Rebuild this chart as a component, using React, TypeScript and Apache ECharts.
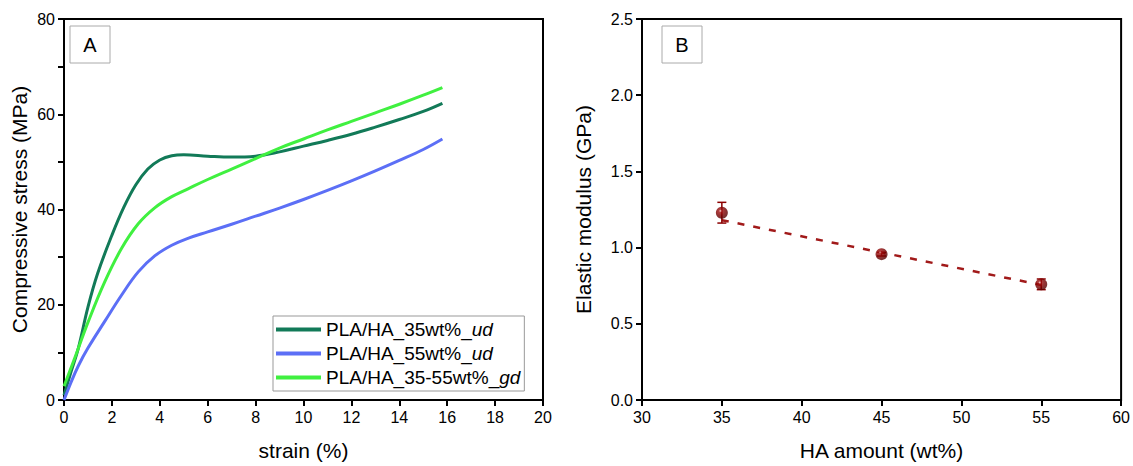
import React, { useEffect, useRef } from "react";
import * as echarts from "echarts";

const FONT = "'Liberation Sans', Arial, Helvetica, sans-serif";

// Panel A: strain (%) vs compressive stress (MPa)
const ud35: [number, number][] = [
  [0, 1.0], [0.3, 6.0], [0.6, 10.9], [1.0, 19.5], [1.4, 26.5], [2.0, 34.6], [2.5, 40.5],
  [3.0, 45.2], [3.5, 48.5], [4.0, 50.4], [4.5, 51.3], [5.0, 51.5], [6.0, 51.2], [7.0, 51.0],
  [8.0, 51.2], [9.0, 52.1], [10.0, 53.3], [11.0, 54.5], [12.0, 55.8], [13.0, 57.3],
  [14.0, 58.9], [15.0, 60.6], [15.8, 62.3],
];
const ud55: [number, number][] = [
  [0, 0], [0.3, 3.8], [0.6, 7.2], [1.0, 10.9], [1.7, 16.5], [2.4, 22.0], [3.1, 26.9],
  [3.8, 30.3], [4.5, 32.5], [5.2, 34.0], [6.0, 35.3], [7.0, 36.9], [8.0, 38.6], [9.0, 40.3],
  [10.0, 42.1], [11.0, 44.0], [12.0, 46.0], [13.0, 48.1], [14.0, 50.3], [15.0, 52.6], [15.8, 54.8],
];
const gd3555: [number, number][] = [
  [0, 2.9], [0.5, 9.5], [1.0, 16.3], [1.7, 24.8], [2.4, 31.8], [3.1, 37.0], [3.8, 40.4],
  [4.5, 42.7], [5.2, 44.4], [6.0, 46.3], [7.0, 48.5], [8.0, 50.7], [9.0, 52.9], [10.0, 54.8],
  [11.0, 56.7], [12.0, 58.5], [13.0, 60.3], [14.0, 62.1], [15.0, 64.0], [15.8, 65.6],
];
const seriesNames = ["PLA/HA_35wt%_ud", "PLA/HA_55wt%_ud", "PLA/HA_35-55wt%_gd"];
const seriesColors = ["#127a58", "#5c6ff6", "#40f040"];

// Panel B: HA amount (wt%) vs elastic modulus (GPa)
const haAmount = [35, 45, 55];
const modulus = [1.229, 0.957, 0.759];
const modulusErr = [0.068, 0.012, 0.035];
const fitLine: [number, number][] = [[35, 1.18], [55, 0.755]];

const legendRich: Record<string, [string, string]> = {
  "PLA/HA_35wt%_ud": ["PLA/HA_35wt%_", "ud"],
  "PLA/HA_55wt%_ud": ["PLA/HA_55wt%_", "ud"],
  "PLA/HA_35-55wt%_gd": ["PLA/HA_35-55wt%_", "gd"],
};

export default function App() {
  const ref = useRef<HTMLDivElement>(null);
  useEffect(() => {
    if (!ref.current) return;
    const chart = echarts.init(ref.current, undefined, { renderer: "svg" });
    const axisLine = { show: true, onZero: false, lineStyle: { color: "#000", width: 2 } };
    const axisTick = { show: true, inside: false, length: 6, lineStyle: { color: "#000", width: 2 } };
    const axisLabel = { color: "#000", fontSize: 16, fontFamily: FONT, margin: 9 };
    const nameStyle = { color: "#000", fontSize: 21, fontFamily: FONT };
    const curves = [ud35, ud55, gd3555];

    const option: any = {
      animation: false,
      backgroundColor: "#fff",
      grid: [
        { left: 64, top: 19, width: 479, height: 383, show: true, borderColor: "#000", borderWidth: 2, backgroundColor: "transparent" },
        { left: 642, top: 19, width: 481, height: 383, show: true, borderColor: "#000", borderWidth: 2, backgroundColor: "transparent" },
      ],
      xAxis: [
        {
          gridIndex: 0, type: "value", min: 0, max: 20, interval: 2,
          name: "strain (%)", nameLocation: "middle", nameGap: 40, nameTextStyle: nameStyle,
          axisLine, axisTick, axisLabel, splitLine: { show: false },
        },
        {
          gridIndex: 1, type: "value", min: 30, max: 60, interval: 5,
          name: "HA amount (wt%)", nameLocation: "middle", nameGap: 40, nameTextStyle: nameStyle,
          axisLine, axisTick, axisLabel, splitLine: { show: false },
        },
      ],
      yAxis: [
        {
          gridIndex: 0, type: "value", min: 0, max: 80, interval: 20,
          name: "Compressive stress (MPa)", nameLocation: "middle", nameGap: 34, nameTextStyle: nameStyle,
          axisLine, axisTick, axisLabel,
          minorTick: { show: true, splitNumber: 2, length: 6, lineStyle: { color: "#000", width: 2 } },
          splitLine: { show: false },
        },
        {
          gridIndex: 1, type: "value", min: 0, max: 2.5, interval: 0.5,
          name: "Elastic modulus (GPa)", nameLocation: "middle", nameGap: 48, nameTextStyle: nameStyle,
          axisLine, axisTick,
          axisLabel: { ...axisLabel, formatter: (v: number) => v.toFixed(1) },
          splitLine: { show: false },
        },
      ],
      legend: {
        data: seriesNames,
        orient: "vertical",
        left: 273,
        top: 316,
        padding: [4, 4, 4, 3],
        itemGap: 5,
        itemWidth: 45,
        itemHeight: 4,
        icon: "rect",
        borderColor: "#999",
        borderWidth: 1,
        backgroundColor: "#fff",
        selectedMode: false,
        formatter: (name: string) => {
          const p = legendRich[name];
          return `{n|${p[0]}}{i|${p[1]}}`;
        },
        textStyle: {
          color: "#000",
          fontSize: 19,
          fontFamily: FONT,
          rich: {
            n: { fontSize: 19, fontFamily: FONT, color: "#000", lineHeight: 20 },
            i: { fontSize: 19, fontFamily: FONT, color: "#000", fontStyle: "italic", lineHeight: 20 },
          },
        },
      },
      graphic: [
        { type: "rect", shape: { x: 70, y: 26, width: 40, height: 37 }, style: { fill: "#fff", stroke: "#aaa", lineWidth: 1 }, z: 10 },
        { type: "text", x: 90, y: 45, style: { text: "A", fontSize: 20, fontFamily: FONT, fill: "#000", textAlign: "center", textVerticalAlign: "middle" }, z: 11 },
        { type: "rect", shape: { x: 662, y: 26, width: 40, height: 37 }, style: { fill: "#fff", stroke: "#aaa", lineWidth: 1 }, z: 10 },
        { type: "text", x: 682, y: 45, style: { text: "B", fontSize: 20, fontFamily: FONT, fill: "#000", textAlign: "center", textVerticalAlign: "middle" }, z: 11 },
      ],
      series: [
        ...curves.map((d, i) => ({
          name: seriesNames[i],
          type: "line",
          xAxisIndex: 0,
          yAxisIndex: 0,
          data: d,
          smooth: 0.4,
          symbol: "none",
          color: seriesColors[i],
          lineStyle: { color: seriesColors[i], width: 3 },
          z: 3 + (i === 1 ? 0 : i),
        })),
        {
          name: "fit",
          type: "line",
          xAxisIndex: 1,
          yAxisIndex: 1,
          data: fitLine,
          symbol: "none",
          lineStyle: { color: "#a11a1a", width: 2.5, type: [7, 9] },
          z: 2,
        },
        {
          name: "err",
          type: "custom",
          xAxisIndex: 1,
          yAxisIndex: 1,
          data: haAmount.map((x, i) => [x, modulus[i], modulusErr[i]]),
          renderItem: (_params: any, api: any) => {
            const x = api.value(0);
            const y = api.value(1);
            const e = api.value(2);
            const top = api.coord([x, y + e]);
            const bot = api.coord([x, y - e]);
            const hw = 4.5;
            const st = { stroke: "#8b0000", lineWidth: 1.5 };
            return {
              type: "group",
              children: [
                { type: "line", shape: { x1: top[0], y1: top[1], x2: bot[0], y2: bot[1] }, style: st },
                { type: "line", shape: { x1: top[0] - hw, y1: top[1], x2: top[0] + hw, y2: top[1] }, style: st },
                { type: "line", shape: { x1: bot[0] - hw, y1: bot[1], x2: bot[0] + hw, y2: bot[1] }, style: st },
              ],
            };
          },
          z: 3,
        },
        {
          name: "modulus",
          type: "scatter",
          xAxisIndex: 1,
          yAxisIndex: 1,
          data: haAmount.map((x, i) => [x, modulus[i]]),
          symbol: "circle",
          symbolSize: 12,
          itemStyle: {
            color: new echarts.graphic.RadialGradient(0.38, 0.35, 0.65, [
              { offset: 0, color: "#f0c8c8" },
              { offset: 0.2, color: "#a01010" },
              { offset: 0.6, color: "#7a0000" },
              { offset: 1, color: "#550000" },
            ]),
          },
          z: 5,
        },
      ],
    };
    chart.setOption(option);
    return () => chart.dispose();
  }, []);
  return (
    <div
      ref={ref}
      style={{ position: "absolute", left: 0, top: 0, width: 1133, height: 466, background: "#fff" }}
    />
  );
}
